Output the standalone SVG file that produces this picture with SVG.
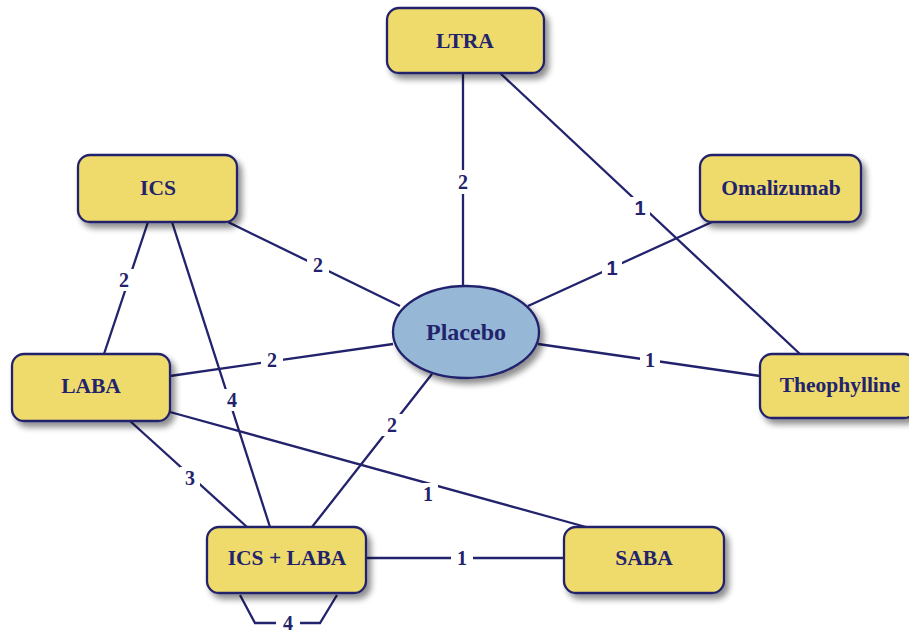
<svg xmlns="http://www.w3.org/2000/svg" width="909" height="633" viewBox="0 0 909 633">
<style>
.box{fill:#efdb6c;stroke:#22236c;stroke-width:2.3;filter:url(#sh)}
.ell{fill:#96b8d6;stroke:#22236c;stroke-width:2.3;filter:url(#sh)}
.nt{font-family:"Liberation Serif",serif;font-weight:bold;font-size:21.5px;fill:#22236c;text-anchor:middle;dominant-baseline:central}
.pt{font-family:"Liberation Serif",serif;font-weight:bold;font-size:24px;fill:#22236c;text-anchor:middle;dominant-baseline:central}
.e{stroke:#22236c;stroke-width:2.3;fill:none}
.lb{font-family:"Liberation Serif",serif;font-weight:bold;font-size:20px;fill:#22236c;text-anchor:middle;dominant-baseline:central}
.ls{font-family:"Liberation Sans",sans-serif}
.bg{fill:#ffffff}
</style>
<defs>
<filter id="sh" x="-20%" y="-20%" width="140%" height="150%">
<feGaussianBlur in="SourceAlpha" stdDeviation="3"/>
<feOffset dx="4" dy="5" result="o"/>
<feComponentTransfer><feFuncA type="linear" slope="0.45"/></feComponentTransfer>
<feMerge><feMergeNode/><feMergeNode in="SourceGraphic"/></feMerge>
</filter>
</defs>
<rect width="909" height="633" fill="#ffffff"/>
<g id="connectors">
<line class="e" x1="463" y1="73" x2="463" y2="286"/>
<line class="e" x1="500" y1="73" x2="800" y2="354"/>
<line class="e" x1="712" y1="222" x2="528" y2="306"/>
<line class="e" x1="228" y1="222" x2="400" y2="306"/>
<line class="e" x1="538" y1="344" x2="760" y2="376"/>
<line class="e" x1="170" y1="376" x2="393" y2="344"/>
<line class="e" x1="148" y1="222" x2="104" y2="354"/>
<line class="e" x1="172" y1="222" x2="270" y2="527"/>
<line class="e" x1="130" y1="421" x2="247" y2="527"/>
<line class="e" x1="432" y1="374" x2="312" y2="527"/>
<line class="e" x1="170" y1="412" x2="586" y2="527"/>
<line class="e" x1="366" y1="558" x2="564" y2="558"/>
<polyline class="e" points="240,595 255,623 320,623 337,595"/>
<rect class="bg" x="452" y="170" width="22" height="24"/>
<text class="lb" x="463" y="182">2</text>
<rect class="bg" x="630" y="197" width="20" height="22"/>
<text class="lb ls" x="640" y="208">1</text>
<rect class="bg" x="602" y="257" width="20" height="22"/>
<text class="lb ls" x="612" y="268">1</text>
<rect class="bg" x="307" y="254" width="22" height="22"/>
<text class="lb" x="318" y="265">2</text>
<rect class="bg" x="640" y="349" width="20" height="22"/>
<text class="lb" x="650" y="360">1</text>
<rect class="bg" x="261" y="349" width="22" height="22"/>
<text class="lb" x="272" y="360">2</text>
<rect class="bg" x="114" y="269" width="20" height="22"/>
<text class="lb" x="124" y="280">2</text>
<rect class="bg" x="222" y="389" width="20" height="22"/>
<text class="lb" x="232" y="400">4</text>
<rect class="bg" x="180" y="467" width="20" height="22"/>
<text class="lb" x="190" y="478">3</text>
<rect class="bg" x="382" y="414" width="20" height="22"/>
<text class="lb" x="392" y="425">2</text>
<rect class="bg" x="418" y="483" width="20" height="22"/>
<text class="lb" x="428" y="494">1</text>
<rect class="bg" x="451" y="547" width="22" height="22"/>
<text class="lb" x="462" y="558">1</text>
<rect class="bg" x="276" y="612" width="24" height="22"/>
<text class="lb" x="288" y="623">4</text>
</g>
<g id="ltra"><rect class="box" x="387" y="8" width="157" height="65" rx="12"/><text class="nt" x="465" y="41">LTRA</text></g>
<g id="ics"><rect class="box" x="78" y="155" width="159" height="67" rx="12"/><text class="nt" x="158" y="188">ICS</text></g>
<g id="omalizumab"><rect class="box" x="700" y="155" width="161" height="67" rx="12"/><text class="nt" x="781" y="188">Omalizumab</text></g>
<g id="placebo"><ellipse class="ell" cx="466" cy="332" rx="73" ry="46"/><text class="pt" x="466" y="332">Placebo</text></g>
<g id="laba"><rect class="box" x="12" y="354" width="158" height="67" rx="12"/><text class="nt" x="91" y="386">LABA</text></g>
<g id="theophylline"><rect class="box" x="760" y="354" width="156" height="64" rx="12"/><text class="nt" x="840" y="385">Theophylline</text></g>
<g id="icslaba"><rect class="box" x="207" y="527" width="159" height="66" rx="12"/><text class="nt" x="287" y="558">ICS + LABA</text></g>
<g id="saba"><rect class="box" x="564" y="527" width="160" height="66" rx="12"/><text class="nt" x="644" y="558">SABA</text></g>
</svg>
